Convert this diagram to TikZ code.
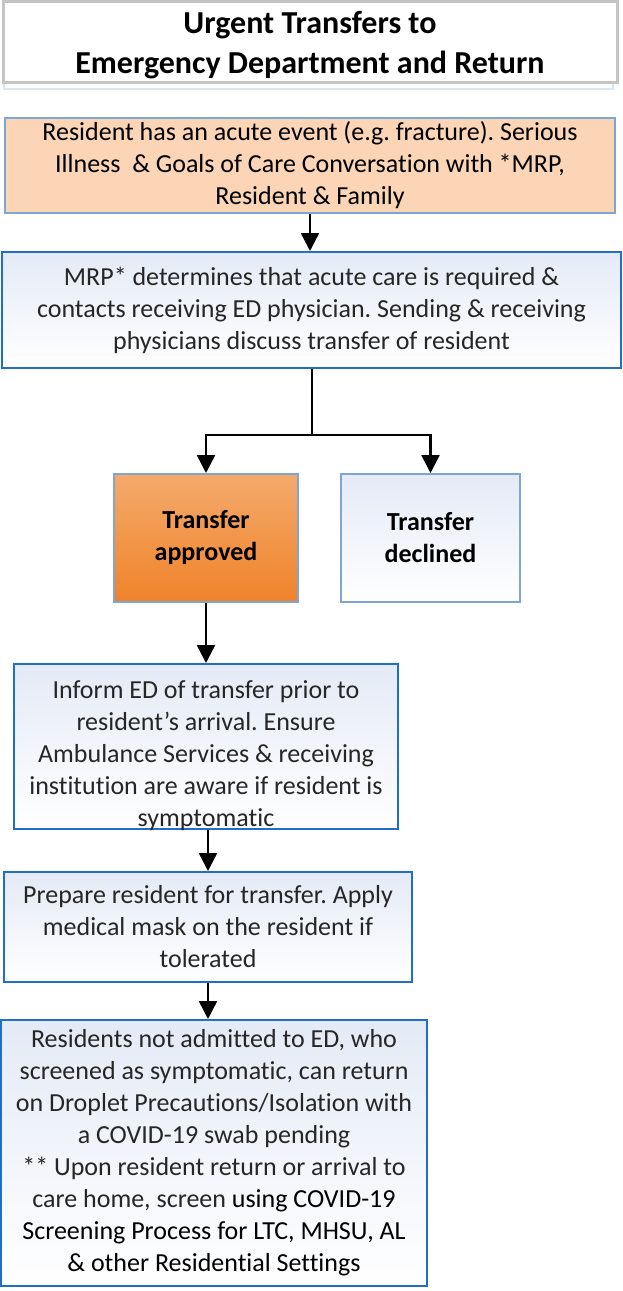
\documentclass[tikz,border=0pt]{standalone}
\usepackage{fontspec}
\setmainfont[Ligatures=NoCommon]{Carlito}
\usepackage{tikz}
\usetikzlibrary{arrows.meta, positioning, calc}
\frenchspacing

\definecolor{boxblue}{HTML}{1F6FC6}
\definecolor{paleblue}{HTML}{7EA6D3}
\definecolor{topblue}{HTML}{E4EAF6}
\definecolor{peach}{HTML}{FBD5B6}
\definecolor{orangetop}{HTML}{F4AA6C}
\definecolor{orangebot}{HTML}{F0832A}
\definecolor{titlegray}{HTML}{C4C4C4}
\definecolor{shadeblue}{HTML}{DCE7F4}
\definecolor{lighttext}{HTML}{262626}

\begin{document}
\begin{tikzpicture}[x=1pt, y=-1pt,
    box/.style={draw=boxblue, line width=2pt, top color=topblue, bottom color=white,
      align=center, inner sep=0pt, text=lighttext, font=\fontsize{26}{32}\selectfont},
    choice/.style={box, draw=paleblue, text=black, font=\bfseries\fontsize{26}{32}\selectfont},
    arr/.style={line width=2.5pt, -{Triangle[width=18pt, length=18pt]}}]
    \useasboundingbox (0,0) rectangle (623,1291);

    % 标题框
    \draw[shadeblue, line width=2.5pt] (4,6) rectangle (613,89);
    \node[draw=titlegray, fill=white, line width=3pt, minimum width=614, minimum height=81,
      inner sep=0pt, font=\bfseries\fontsize{32}{40}\selectfont]
      (title) at (310,41.5) {\raisebox{-10pt}[0pt][0pt]{\parbox{600pt}{\centering
      Urgent Transfers to\\Emergency Department and Return}}};

    % 流程框
    \node[box, draw=paleblue, line width=1.5pt, fill=peach, top color=peach, bottom color=peach,
      text=black, minimum width=610, minimum height=95] (event) at (310,165.5)
      {Resident has an acute event (e.g. fracture). Serious\\
       Illness\ \ \& Goals of Care Conversation with *MRP,\\
       Resident \& Family};
    \node[box, minimum width=619, minimum height=116] (mrp) at (311.5,310)
      {MRP* determines that acute care is required \&\\
       contacts receiving ED physician. Sending \& receiving\\
       physicians discuss transfer of resident};
    \node[choice, top color=orangetop, bottom color=orangebot, minimum width=184, minimum height=128]
      (approved) at (206,538) {Transfer\\approved};
    \node[choice, minimum width=179, minimum height=128] (declined) at (430.5,538) {Transfer\\declined};
    \node[box, minimum width=384, minimum height=165] (inform) at (206,746.5)
      {\raisebox{-15pt}[0pt][0pt]{\parbox{384pt}{\centering
       Inform ED of transfer prior to\\
       resident's arrival. Ensure\\
       Ambulance Services \& receiving\\
       institution are aware if resident is\\
       symptomatic}}};
    \node[box, minimum width=408, minimum height=110] (prepare) at (208,927)
      {Prepare resident for transfer. Apply\\
       medical mask on the resident if\\
       tolerated};
    \node[box, minimum width=426, minimum height=266] (return) at (214,1153)
      {Residents not admitted to ED, who\\
       screened as symptomatic, can return\\
       on Droplet Precautions/Isolation with\\
       a COVID-19 swab pending\\
       ** Upon resident return or arrival to\\
       care home, screen {\color{black}using COVID-19}\\
       {\color{black}Screening Process for LTC, MHSU, AL}\\
       {\color{black}\& other Residential Settings}};

    % 连接箭头
    \coordinate (split) at (312,435);
    \draw[arr] (event.south) -- (event.south |- mrp.north);
    \draw[line width=2.5pt] (mrp.south -| split) -- (split);
    \draw[arr] (split) -| (approved.north);
    \draw[arr] (split) -| (declined.north);
    \draw[arr] (approved.south) -- (approved.south |- inform.north);
    \draw[arr] (prepare.north |- inform.south) -- (prepare.north);
    \draw[arr] (prepare.south) -- (prepare.south |- return.north);
\end{tikzpicture}
\end{document}
